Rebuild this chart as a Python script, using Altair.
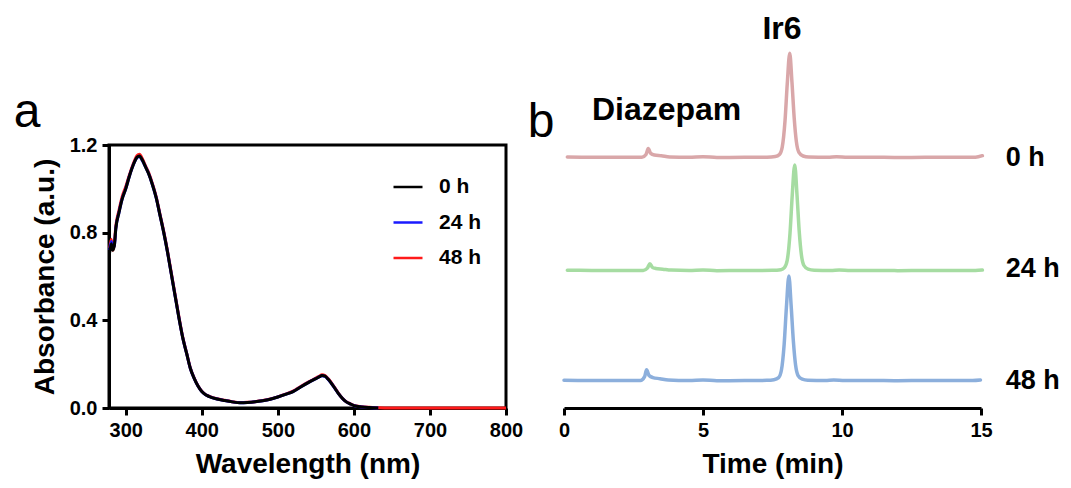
import altair as alt
import pandas as pd

FONT = "Liberation Sans"

# ---------------- Panel a: UV-vis spectra ----------------
wl_short = [279, 281, 283, 285, 287, 291, 295, 300, 305, 310, 315, 318, 322, 326, 330,
            335, 340, 345, 350, 355, 360, 365, 370, 375, 380, 385, 390, 395, 400, 405,
            410, 420, 430, 440, 450, 460, 470, 480, 490, 500, 510, 520, 530, 540, 550,
            555, 558, 562, 566, 570, 575, 580, 585, 590, 595, 600, 610, 620, 632]
abs_0h = [0.71, 0.75, 0.72, 0.74, 0.82, 0.89, 0.95, 1.00, 1.06, 1.11, 1.145, 1.15, 1.13, 1.10, 1.07,
          1.02, 0.96, 0.88, 0.80, 0.71, 0.61, 0.51, 0.41, 0.32, 0.25, 0.18, 0.135, 0.10, 0.075, 0.06,
          0.052, 0.041, 0.034, 0.028, 0.024, 0.025, 0.028, 0.033, 0.04, 0.05, 0.062, 0.075, 0.096, 0.116, 0.134,
          0.143, 0.148, 0.145, 0.132, 0.115, 0.09, 0.064, 0.043, 0.028, 0.019, 0.011, 0.005, 0.002, 0.0]
abs_24h = [0.72, 0.76, 0.73, 0.74, 0.82, 0.89, 0.95, 1.00, 1.06, 1.11, 1.143, 1.148, 1.128, 1.10, 1.07,
           1.02, 0.96, 0.88, 0.80, 0.71, 0.61, 0.51, 0.41, 0.32, 0.25, 0.18, 0.135, 0.10, 0.075, 0.06,
           0.052, 0.041, 0.034, 0.028, 0.024, 0.025, 0.028, 0.033, 0.04, 0.05, 0.062, 0.075, 0.096, 0.116, 0.134,
           0.143, 0.147, 0.144, 0.131, 0.114, 0.09, 0.064, 0.043, 0.028, 0.019, 0.011, 0.005, 0.002, 0.0]
wl_48h = wl_short + [640, 680, 720, 760, 800]
abs_48h = [0.73, 0.77, 0.72, 0.75, 0.83, 0.90, 0.96, 1.01, 1.065, 1.115, 1.152, 1.158, 1.136, 1.105, 1.075,
           1.025, 0.965, 0.885, 0.805, 0.715, 0.615, 0.515, 0.415, 0.322, 0.252, 0.182, 0.137, 0.102, 0.077, 0.061,
           0.053, 0.042, 0.035, 0.029, 0.025, 0.026, 0.029, 0.034, 0.041, 0.051, 0.063, 0.077, 0.098, 0.118, 0.137,
           0.146, 0.152, 0.148, 0.135, 0.117, 0.092, 0.066, 0.044, 0.029, 0.02, 0.012, 0.006, 0.003, 0.001,
           0.0, 0.0, 0.0, 0.0, 0.0]

series_a = ["0 h", "24 h", "48 h"]
colors_a = ["#000000", "#1a1aff", "#ff1a1a"]

spec_df = pd.concat([
    pd.DataFrame({"wl": wl_48h, "A": abs_48h, "series": "48 h", "o": range(len(wl_48h))}),
    pd.DataFrame({"wl": wl_short, "A": abs_24h, "series": "24 h", "o": range(len(wl_short))}),
    pd.DataFrame({"wl": wl_short, "A": abs_0h, "series": "0 h", "o": range(len(wl_short))}),
], ignore_index=True)

def ax(values, title, fmt=None):
    kw = dict(values=values, title=title, grid=False, labelFlush=False,
              labelFont=FONT, labelFontSize=20, labelFontWeight="bold", labelColor="black",
              titleFont=FONT, titleFontSize=28, titleFontWeight="bold", titleColor="black",
              tickSize=7, tickWidth=3, tickColor="black", domainWidth=3, domainColor="black",
              labelPadding=5, titlePadding=10)
    if fmt:
        kw["format"] = fmt
    return alt.Axis(**kw)

lines_a = alt.Chart(spec_df).mark_line(strokeWidth=3, interpolate="monotone").encode(
    x=alt.X("wl:Q", scale=alt.Scale(domain=[278, 800], nice=False, zero=False),
            axis=ax([300, 400, 500, 600, 700, 800], "Wavelength (nm)")),
    y=alt.Y("A:Q", scale=alt.Scale(domain=[0, 1.2], nice=False),
            axis=ax([0, 0.4, 0.8, 1.2], "Absorbance (a.u.)", ".1f")),
    color=alt.Color("series:N", scale=alt.Scale(domain=series_a, range=colors_a),
                    legend=alt.Legend(title=None, orient="none", legendX=283, legendY=26,
                                      symbolType="stroke", symbolSize=841, symbolStrokeWidth=2.5,
                                      labelFont=FONT, labelFontSize=21, labelFontWeight="bold",
                                      labelColor="black", labelOffset=15, rowPadding=9.5,
                                      padding=0)),
    order="o:Q",
)

letter_a = alt.Chart(pd.DataFrame({"t": ["a"]})).mark_text(
    font=FONT, fontSize=48, align="center", baseline="alphabetic", color="black"
).encode(text="t:N", x=alt.value(-82), y=alt.value(-18))

panel_a = alt.layer(lines_a, letter_a).properties(
    width=397, height=263, view=alt.ViewBackground(stroke="black", strokeWidth=3)
)

# ---------------- Panel b: HPLC traces ----------------
t_0h = [0.12, 1.0, 2.0, 2.8, 2.95, 3.03, 3.12, 3.25, 3.5, 3.8, 4.5, 5.0, 5.5, 6.5, 7.3, 7.6, 7.75,
        7.85, 7.95, 8.03, 8.12, 8.2, 8.28, 8.36, 8.45, 8.6, 8.8, 9.5, 9.8, 10.2, 11.0, 12.0, 13.0,
        14.0, 14.8, 15.05]
i_0h = [0.5, 0.3, 0.2, 0.3, 3.0, 8.6, 4.0, 2.5, 1.8, 0.6, 0.2, 0.8, 0.1, 0.2, 0.4, 1.0, 3.0,
        10.0, 35.0, 70.0, 99.5, 72.0, 38.0, 15.0, 5.0, 1.5, 0.5, 0.3, 0.9, 0.2, 0.3, 0.1, 0.2,
        0.2, 0.3, 1.8]
t_24h = [0.12, 1.0, 2.0, 2.85, 3.0, 3.09, 3.18, 3.3, 3.55, 3.85, 4.5, 5.0, 5.5, 6.5, 7.5, 7.8, 7.93,
         8.03, 8.13, 8.21, 8.30, 8.38, 8.46, 8.54, 8.63, 8.78, 9.0, 9.6, 9.9, 10.3, 11.0, 12.0, 13.0,
         14.0, 14.8, 15.05]
i_24h = [0.4, 0.3, 0.2, 0.3, 2.5, 6.7, 3.2, 2.2, 1.5, 0.6, 0.2, 0.7, 0.1, 0.2, 0.4, 1.0, 3.0,
         10.0, 36.0, 72.0, 100.9, 73.0, 38.0, 15.0, 5.0, 1.5, 0.5, 0.3, 0.8, 0.2, 0.3, 0.1, 0.2,
         0.2, 0.3, 0.6]
t_48h = [0.0, 1.0, 2.0, 2.75, 2.9, 2.97, 3.06, 3.2, 3.45, 3.75, 4.5, 5.0, 5.5, 6.5, 7.3, 7.55, 7.72,
         7.82, 7.92, 8.0, 8.09, 8.17, 8.25, 8.33, 8.42, 8.57, 8.77, 9.4, 9.7, 10.1, 11.0, 12.0, 13.0,
         14.0, 14.7, 14.98]
i_48h = [0.4, 0.3, 0.2, 0.3, 4.0, 10.5, 5.0, 3.0, 2.0, 0.7, 0.2, 0.8, 0.1, 0.2, 0.4, 1.0, 3.0,
         10.0, 35.0, 70.0, 100.0, 72.0, 38.0, 15.0, 5.0, 1.5, 0.5, 0.3, 0.8, 0.2, 0.3, 0.1, 0.2,
         0.2, 0.3, 0.8]

trace_names = ["0 h", "24 h", "48 h"]
trace_offsets = [213, 105, 0]
trace_colors = ["#d9a7a9", "#a6dca2", "#8cafdc"]

frames = []
for name, off, ts, vals in zip(trace_names, trace_offsets, [t_0h, t_24h, t_48h], [i_0h, i_24h, i_48h]):
    frames.append(pd.DataFrame({"time": ts, "y": [v + off for v in vals], "trace": name,
                                "o": range(len(ts))}))
hplc_df = pd.concat(frames, ignore_index=True)

label_df = pd.DataFrame({
    "label": ["0 h", "24 h", "48 h"],
    "time": [15.89, 15.89, 15.89],
    "y": [205, 99.4, -8.1],
})
peak_df = pd.DataFrame({
    "label": ["Diazepam", "Ir6"],
    "time": [3.69, 7.84],
    "y": [248.9, 326.0],
})

xb = alt.X("time:Q", scale=alt.Scale(domain=[0, 15], nice=False),
           axis=ax([0, 5, 10, 15], "Time (min)"))
yb = alt.Y("y:Q", scale=alt.Scale(domain=[-26, 225], nice=False), axis=None)

lines_b = alt.Chart(hplc_df).mark_line(strokeWidth=3.5, interpolate="monotone",
                                        strokeCap="round", strokeJoin="round").encode(
    x=xb, y=yb,
    color=alt.Color("trace:N", scale=alt.Scale(domain=trace_names, range=trace_colors), legend=None),
    order="o:Q",
)

labels_b = alt.Chart(label_df).mark_text(
    font=FONT, fontSize=27, fontWeight="bold", align="left", baseline="alphabetic", color="black"
).encode(x=xb, y=yb, text="label:N")

peaks_b = alt.Chart(peak_df).mark_text(
    font=FONT, fontSize=32, fontWeight="bold", align="center", baseline="alphabetic", color="black"
).encode(x=xb, y=yb, text="label:N")

letter_b = alt.Chart(pd.DataFrame({"t": ["b"]})).mark_text(
    font=FONT, fontSize=48, align="center", baseline="alphabetic", color="black"
).encode(text="t:N", x=alt.value(-23), y=alt.value(-8))

panel_b = alt.layer(lines_b, labels_b, peaks_b, letter_b).properties(
    width=417, height=263, view=alt.ViewBackground(stroke="transparent")
)

chart = alt.hconcat(panel_a, panel_b, spacing=58, bounds="flush").properties(
    padding={"left": 12, "top": 12, "right": 0, "bottom": 0},
    background="white",
).resolve_scale(color="independent")

chart.save("out.html", embed_options={"renderer": "svg", "actions": False})
